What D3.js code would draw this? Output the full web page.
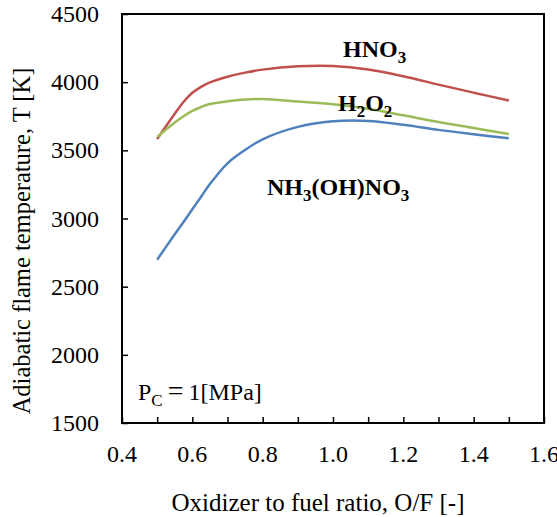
<!DOCTYPE html>
<html>
<head>
<meta charset="utf-8">
<script src="https://cdn.jsdelivr.net/npm/d3@7"></script>
<style>
  body { margin: 0; background: #fff; }
  text { font-family: "Liberation Serif", "Times New Roman", serif; fill: #000; }
</style>
</head>
<body>
<svg id="chart" width="557" height="517"></svg>
<script>
// O/F values
var ofRatio = [0.5, 0.55, 0.575, 0.6, 0.625, 0.65, 0.7, 0.75, 0.8, 0.9, 1.0, 1.1, 1.2, 1.3, 1.4, 1.5]
var tHNO3 = [3583, 3768, 3855, 3922, 3966, 3998, 4040, 4070, 4092, 4116, 4118, 4093, 4043, 3982, 3923, 3865]
var tH2O2 = [3598, 3705, 3750, 3789, 3818, 3840, 3860, 3872, 3876, 3858, 3838, 3805, 3757, 3708, 3664, 3620]
var tHAN = [2698, 2885, 2975, 3068, 3160, 3253, 3405, 3503, 3581, 3672, 3713, 3716, 3688, 3650, 3618, 3588]
var xTicks = [0.4, 0.6, 0.8, 1.0, 1.2, 1.4, 1.6]
var xMinor = [0.5, 0.7, 0.9, 1.1, 1.3, 1.5]
var yTicks = [1500, 2000, 2500, 3000, 3500, 4000, 4500]

var svg = d3.select('#chart')
var box = {left: 122, right: 544, top: 14, bottom: 423}

var x = d3.scaleLinear().domain([0.4, 1.6]).range([box.left, box.right])
var y = d3.scaleLinear().domain([1500, 4500]).range([box.bottom, box.top])

var series = [
    {vals: tHNO3, color: '#c0504d'},
    {vals: tH2O2, color: '#9bbb59'},
    {vals: tHAN, color: '#4f81bd'}
]

var line = d3.line()
    .x(function(d) { return x(d[0]) })
    .y(function(d) { return y(d[1]) })
    .curve(d3.curveCatmullRom.alpha(0.5))

svg.selectAll('.curve')
    .data(series)
    .enter().append('path')
    .attr('class', 'curve')
    .attr('fill', 'none')
    .attr('stroke', function(s) { return s.color })
    .attr('stroke-width', 2.5)
    .attr('d', function(s) { return line(d3.zip(ofRatio, s.vals)) })

// frame
svg.append('rect')
    .attr('x', box.left).attr('y', box.top)
    .attr('width', box.right - box.left).attr('height', box.bottom - box.top)
    .attr('fill', 'none').attr('stroke', '#000').attr('stroke-width', 2)

// x axis, ticks inward
var xAxis = d3.axisBottom(x).tickValues(xTicks.concat(xMinor))
    .tickSize(-6).tickFormat('')
var gx = svg.append('g').attr('transform', 'translate(0,' + box.bottom + ')').call(xAxis)
gx.select('.domain').remove()
gx.selectAll('line').attr('stroke-width', 1.5)

svg.selectAll('.xlab')
    .data(xTicks)
    .enter().append('text')
    .attr('class', 'xlab')
    .attr('x', function(d) { return x(d) })
    .attr('y', 462)
    .attr('text-anchor', 'middle')
    .style('font-size', '24px')
    .text(function(d) { return d.toFixed(1) })

var yAxis = d3.axisLeft(y).tickValues(yTicks).tickSize(-6).tickFormat('')
var gy = svg.append('g').attr('transform', 'translate(' + box.left + ',0)').call(yAxis)
gy.select('.domain').remove()
gy.selectAll('line').attr('stroke-width', 1.5)

svg.selectAll('.ylab')
    .data(yTicks)
    .enter().append('text')
    .attr('class', 'ylab')
    .attr('x', 99)
    .attr('y', function(d) { return y(d) + 8 })
    .attr('text-anchor', 'end')
    .style('font-size', '24px')
    .text(function(d) { return d })

svg.append('text')
    .attr('x', 318)
    .attr('y', 511)
    .attr('text-anchor', 'middle')
    .style('font-size', '25px')
    .text('Oxidizer to fuel ratio, O/F [-]')

svg.append('text')
    .attr('transform', 'translate(30,241) rotate(-90)')
    .attr('text-anchor', 'middle')
    .style('font-size', '24.5px')
    .text('Adiabatic flame temperature, T [K]')

// species labels with subscripts
function label(parts, px, py) {
    var t = svg.append('text')
        .attr('x', px).attr('y', py)
        .style('font-size', '24px')
        .style('font-weight', 'bold')
    parts.forEach(function(p) {
        var s = t.append('tspan').text(p[0])
        if (p[1]) {
            s.style('font-size', '17px').attr('dy', 6)
        } else if (p[2]) {
            s.attr('dy', -6)
        }
    })
    return t
}

label([['HNO'], ['3', true]], 343, 57)
label([['H'], ['2', true], ['O', false, true], ['2', true]], 338, 111)
label([['NH'], ['3', true], ['(OH)NO', false, true], ['3', true]], 267, 195)

var pc = svg.append('text').attr('x', 138).attr('y', 400).style('font-size', '24px')
pc.append('tspan').text('P')
pc.append('tspan').text('C').style('font-size', '17px').attr('dy', 6)
pc.append('tspan').text('=').attr('dy', -6).attr('dx', 5).style('font-size', '28px')
pc.append('tspan').text('1[MPa]').attr('dx', 5)
</script>
</body>
</html>
